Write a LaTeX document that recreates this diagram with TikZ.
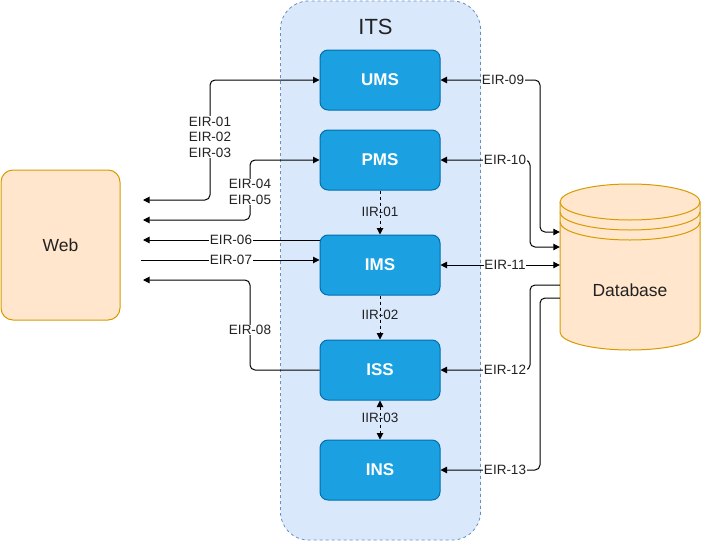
\documentclass[tikz,border=0pt]{standalone}
\usepackage{fontspec}
\setmainfont{Liberation Sans}
\usetikzlibrary{arrows.meta}
\definecolor{itsfill}{HTML}{DAE8FC}
\definecolor{itsline}{HTML}{6C8EBF}
\definecolor{boxfill}{HTML}{1BA1E2}
\definecolor{boxline}{HTML}{006EAF}
\definecolor{orfill}{HTML}{FFE6CC}
\definecolor{orline}{HTML}{D79B00}
\definecolor{txt}{HTML}{222222}
\begin{document}
\begin{tikzpicture}[x=1pt,y=-1pt,
  module/.style={draw=boxline, fill=boxfill, rounded corners=8pt, minimum width=120pt, minimum height=60pt, inner sep=0pt, text=white, font=\bfseries\fontsize{17}{20}\selectfont, line width=1pt},
  conn/.style={line width=1pt, rounded corners=5pt},
  tipe/.style={-{Triangle[length=6.5pt,width=6.5pt]}},
  tips/.style={{Triangle[length=6.5pt,width=6.5pt]}-},
  tipb/.style={{Triangle[length=6.5pt,width=6.5pt]}-{Triangle[length=6.5pt,width=6.5pt]}},
  iir/.style={line width=1pt, dash pattern=on 3pt off 3pt},
  lbl/.style={fill=white, font=\fontsize{13.5}{15.5}\selectfont, inner sep=0.5pt, text=txt, align=center},
  ilbl/.style={font=\fontsize{13.5}{15.5}\selectfont, inner sep=0.5pt, text=txt, align=center}
]
\useasboundingbox (0,0) rectangle (701,541);
% container
\node[draw=itsline, fill=itsfill, dash pattern=on 3pt off 3pt, rounded corners=28pt, minimum width=200pt, minimum height=539pt, line width=0.8pt] (its) at (380.5,270.5) {};
\node[font=\fontsize{22}{26}\selectfont, text=txt] (itstitle) at (375.5,27) {ITS};
% modules
\node[module] (ums) at (380,80) {UMS};
\node[module] (pms) at (380,160) {PMS};
\node[module] (ims) at (380,265) {IMS};
\node[module] (iss) at (380,370) {ISS};
\node[module] (ins) at (380,470) {INS};
% web
\node[draw=orline, fill=orfill, rounded corners=12pt, minimum width=119pt, minimum height=150pt, line width=1pt, font=\fontsize{17.5}{20}\selectfont, text=txt] (web) at (60.5,245) {Web};
% database
\node[minimum width=140pt, minimum height=166pt, inner sep=0pt] (db) at (630,267) {};
\path[fill=orfill, draw=orline, line width=1pt] (560,202) arc[start angle=180, end angle=0, x radius=70pt, y radius=18pt] -- (700,332) arc[start angle=0, end angle=-180, x radius=70pt, y radius=18pt] -- cycle;
\draw[orline, line width=1pt] (560,202) arc[start angle=180, end angle=360, x radius=70pt, y radius=18pt];
\draw[orline, line width=1pt] (560,212) arc[start angle=180, end angle=360, x radius=70pt, y radius=18pt];
\draw[orline, line width=1pt] (560,222) arc[start angle=180, end angle=360, x radius=70pt, y radius=18pt];
\node[font=\fontsize{17.5}{20}\selectfont, text=txt] (dbtext) at (630,290) {Database};
% free ends near web
\coordinate (w1) at (143,200);
\coordinate (w2) at (143,220);
\coordinate (w3) at (143,240);
\coordinate (w4) at (141,260);
\coordinate (w5) at (143,280);
% left connectors
\draw[conn, tipb] (w1) -- (210,200) -- (210,80) -- (ums.west);
\node[lbl] (l01) at (210,137) {EIR-01\\EIR-02\\EIR-03};
\draw[conn, tipb] (w2) -- (250,220) -- (250,160) -- (pms.west);
\node[lbl] (l04) at (250,192) {EIR-04\\EIR-05};
\draw[conn, tipe] (ims.west |- 0,240) -- (w3);
\node[lbl] (l06) at (231,240) {EIR-06};
\draw[conn, tipe] (w4) -- (ims.west |- 0,260);
\node[lbl] (l07) at (231,260) {EIR-07};
\draw[conn, tipe] (iss.west) -- (250,370) -- (250,280) -- (w5);
\node[lbl] (l08) at (250,330) {EIR-08};
% right connectors
\draw[conn, tipb] (ums.east) -- (540,80) -- (540,232) -- (db.west |- 0,232);
\node[lbl] (l09) at (503,80) {EIR-09};
\draw[conn, tipb] (pms.east) -- (530,160) -- (530,247) -- (db.west |- 0,247);
\node[lbl] (l10) at (505,160) {EIR-10};
\draw[conn, tipb] (ims.east) -- (db.west |- ims.east);
\node[lbl] (l11) at (505,265) {EIR-11};
\draw[conn, tipe] (db.west |- 0,285) -- (530,285) -- (530,370) -- (iss.east);
\node[lbl] (l12) at (505,370) {EIR-12};
\draw[conn, tipe] (db.west |- 0,298) -- (540,298) -- (540,470) -- (ins.east);
\node[lbl] (l13) at (505,470) {EIR-13};
% internal connectors
\draw[iir, tipe] (pms.south) -- (ims.north);
\node[ilbl] (i01) at (380,212) {IIR-01};
\draw[iir, tipe] (ims.south) -- (iss.north);
\node[ilbl] (i02) at (380,315) {IIR-02};
\draw[iir, tipb] (iss.south) -- (ins.north);
\node[ilbl] (i03) at (380,418) {IIR-03};
\end{tikzpicture}
\end{document}
